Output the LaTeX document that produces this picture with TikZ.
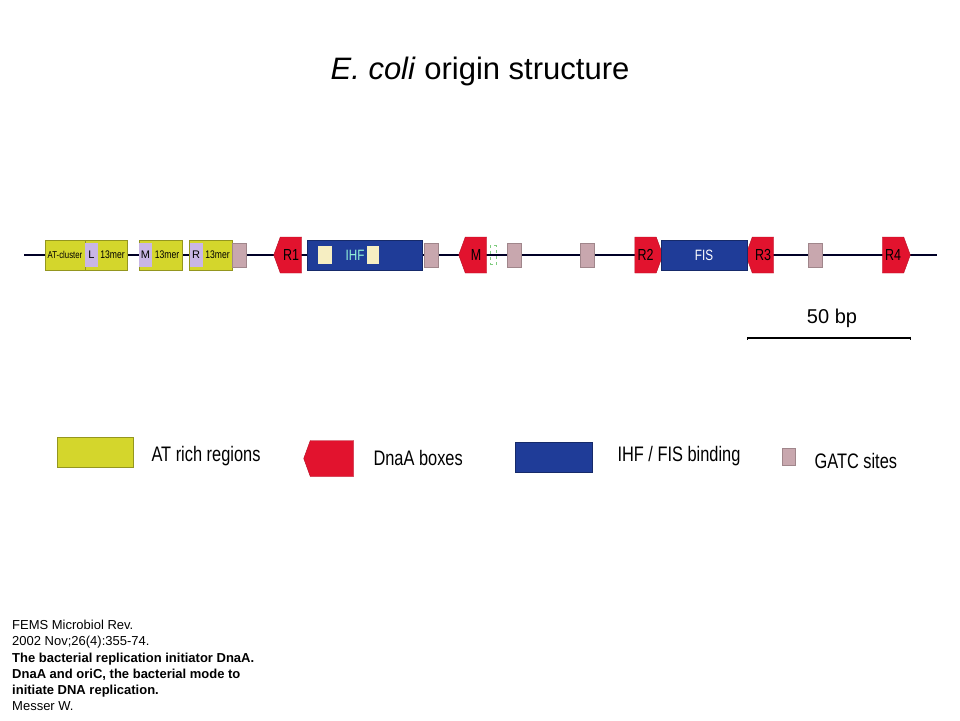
\documentclass[tikz,border=0pt]{standalone}
\usepackage{fontspec}
\setmainfont{Liberation Sans}
\usetikzlibrary{shapes.symbols, arrows.meta}

\definecolor{atyellow}{HTML}{D4D62C}
\definecolor{merlav}{HTML}{C9B6E6}
\definecolor{boxred}{HTML}{E2132E}
\definecolor{bindblue}{HTML}{1F3C98}
\definecolor{gatcpink}{HTML}{C8A7AE}
\definecolor{ihfcream}{HTML}{F6EEC2}
\newcommand{\cond}[1]{\scalebox{0.78}[1]{#1}}

\begin{document}
\begin{tikzpicture}[x=1pt, y=-1pt,
    atbox/.style={rectangle, draw=atyellow!70!black, fill=atyellow, minimum height=30pt, inner sep=0pt, font=\fontsize{10}{10}\selectfont},
    merbox/.style={rectangle, fill=merlav, minimum width=13pt, minimum height=24pt, inner sep=0pt, font=\fontsize{11}{11}\selectfont},
    gatc/.style={rectangle, fill=gatcpink, draw=gatcpink!80!black, minimum width=14pt, minimum height=24pt, inner sep=0pt},
    dnaa/.style={signal, fill=boxred, draw=boxred!80!black, signal pointer angle=140, minimum width=28pt, minimum height=36pt, inner sep=0pt, font=\fontsize{16}{16}\selectfont},
    bind/.style={rectangle, fill=bindblue, draw=bindblue!70!black, minimum height=30pt, inner sep=0pt, text=white, font=\fontsize{15}{15}\selectfont},
    legtext/.style={anchor=west, font=\fontsize{21}{21}\selectfont}]
    \useasboundingbox (0,0) rectangle (960,720);

    % Title
    \node (title) at (480,71) {\fontsize{31}{31}\selectfont\textit{E. coli} origin structure};

    % Backbone
    \coordinate (start) at (24,255);
    \coordinate (stop) at (937,255);
    \draw[line width=1.8pt, black!85!blue] (start) -- (stop);

    % AT rich region and 13mers
    \node[atbox, minimum width=40pt] (atc) at (65,255) {\cond{AT-cluster}};
    \node[atbox, minimum width=42pt] (lmer) at (106,255) {};
    \node[atbox, minimum width=43pt] (mmer) at (160.5,255) {};
    \node[atbox, minimum width=43pt] (rmer) at (210.5,255) {};
    \node[merbox] (lbox) at (91.5,255) {L};
    \node[merbox] (mbox) at (145.5,255) {M};
    \node[merbox] (rbox) at (196,255) {R};
    \node[font=\fontsize{11}{11}\selectfont] (ltxt) at (112.5,255) {\cond{13mer}};
    \node[font=\fontsize{11}{11}\selectfont] (mtxt) at (167,255) {\cond{13mer}};
    \node[font=\fontsize{11}{11}\selectfont] (rtxt) at (217.5,255) {\cond{13mer}};

    % GATC sites
    \node[gatc] (g1) at (239,255) {};
    \node[gatc] (g2) at (431.5,255) {};
    \node[gatc] (g3) at (514,255) {};
    \node[gatc] (g4) at (587,255) {};
    \node[gatc] (g5) at (815,255) {};

    % DnaA boxes
    \node[dnaa, signal to=west] (r1) at (291,255) {\cond{R1}};
    \node[dnaa, signal to=west] (m) at (476,255) {\cond{M}};
    \node[dnaa, signal to=east] (r2) at (645.5,255) {\cond{R2}};
    \node[dnaa, signal to=west] (r3) at (763,255) {\cond{R3}};
    \node[dnaa, signal to=east] (r4) at (893,255) {\cond{R4}};
    \node[draw=green!60!black!50, dashed, minimum width=6pt, minimum height=19pt, inner sep=0pt] (mark) at (493,255) {};

    % IHF and FIS
    \node[bind, minimum width=115pt] (ihf) at (364.5,255) {};
    \node[rectangle, fill=ihfcream, minimum width=14pt, minimum height=18pt, inner sep=0pt] (ihfa) at (325,255) {};
    \node[rectangle, fill=ihfcream, minimum width=12pt, minimum height=18pt, inner sep=0pt] (ihfb) at (373,255) {};
    \node[text=ihfcream!60!cyan, font=\fontsize{15}{15}\selectfont] (ihftxt) at (355,255) {\cond{IHF}};
    \node[bind, minimum width=86pt] (fis) at (704,255) {\cond{FIS}};

    % Scale bar
    \coordinate (sa) at (747,338);
    \coordinate (sb) at (911,338);
    \draw[line width=1.2pt, {Bar[width=3pt]}-{Bar[width=3pt]}] (sa) -- (sb);
    \node[font=\fontsize{20}{20}\selectfont] (scale) at (832,318) {50 bp};

    % Legend
    \node[atbox, minimum width=76pt] (lgat) at (95,452) {};
    \node[legtext] (lgattxt) at (148,456) {\cond{AT rich regions}};
    \node[dnaa, signal to=west, minimum width=50pt] (lgdnaa) at (332,458.5) {};
    \node[legtext] (lgdnaatxt) at (370,458) {\cond{DnaA boxes}};
    \node[bind, minimum width=77pt] (lgbind) at (553.5,457) {};
    \node[legtext] (lgbindtxt) at (614,456) {\cond{IHF / FIS binding}};
    \node[gatc, minimum width=13pt, minimum height=17pt] (lggatc) at (788.5,456.5) {};
    \node[legtext] (lggatctxt) at (811,461) {\cond{GATC sites}};

    % Reference
    \node[anchor=north west, align=left, inner sep=0pt, font=\fontsize{13}{16.2}\selectfont] (ref) at (12,620)
      {FEMS Microbiol Rev.\\
       2002 Nov;26(4):355-74.\\
       \textbf{The bacterial replication initiator DnaA.}\\
       \textbf{DnaA and oriC, the bacterial mode to}\\
       \textbf{initiate DNA replication.}\\
       Messer W.};
\end{tikzpicture}
\end{document}
